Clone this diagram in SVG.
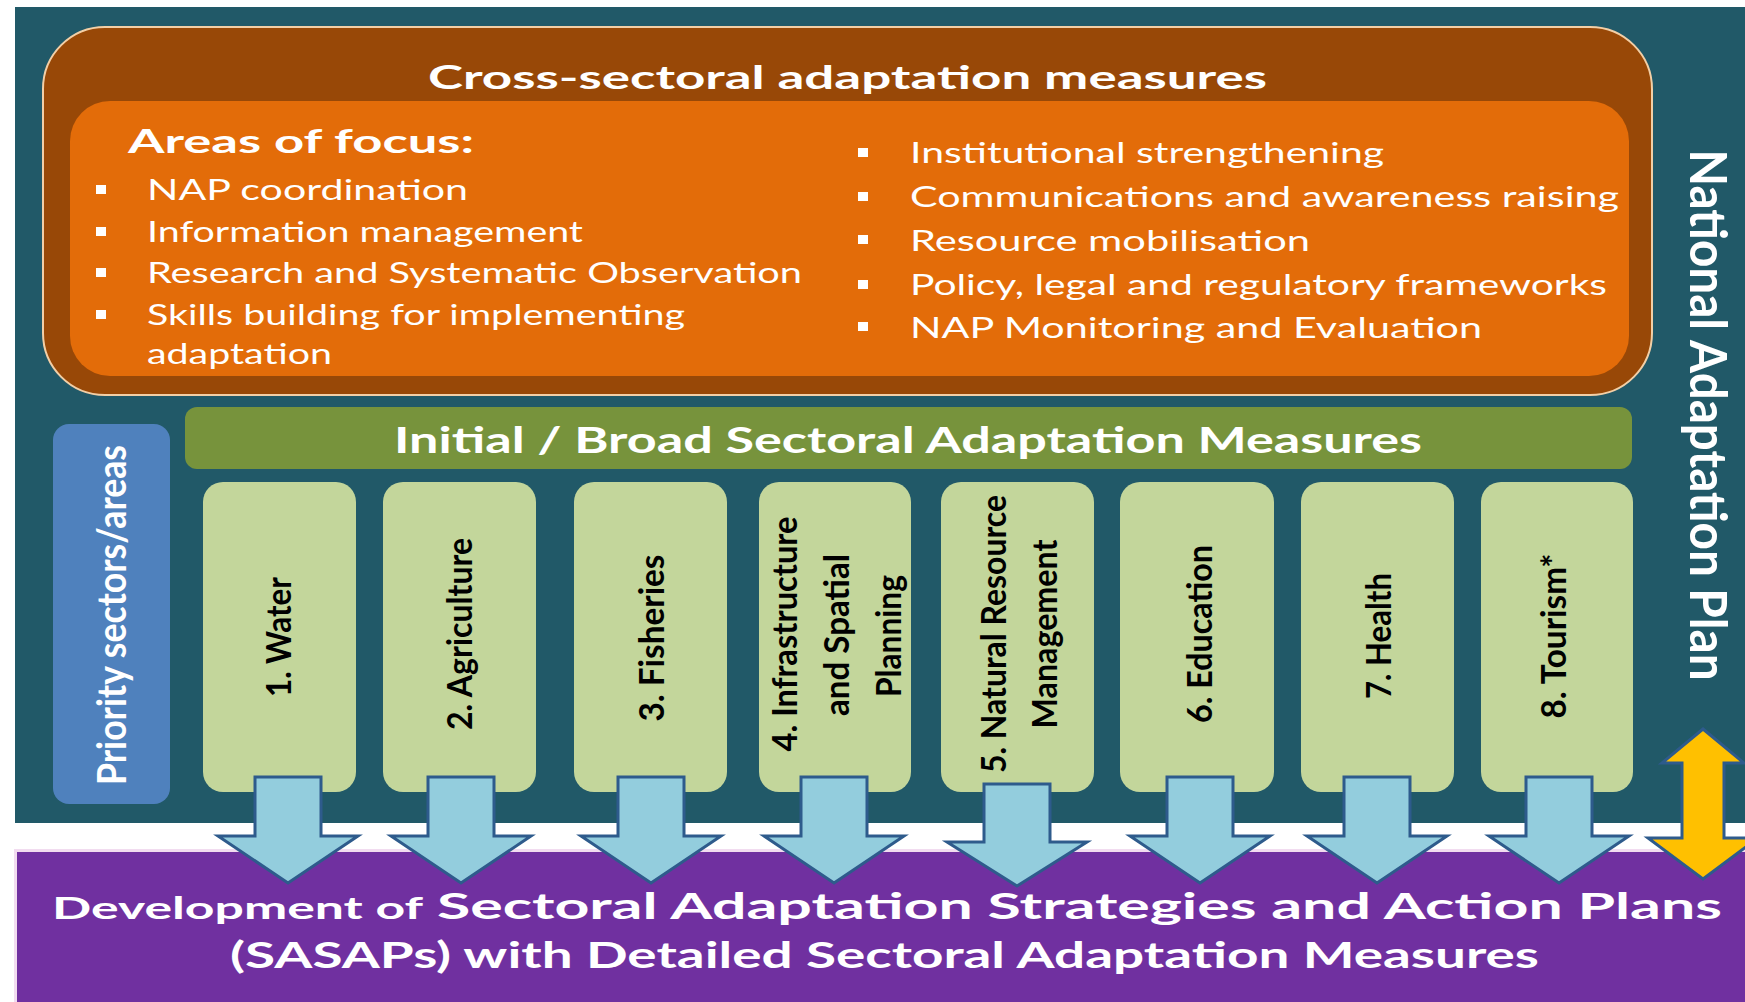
<svg xmlns="http://www.w3.org/2000/svg" width="1745" height="1002" viewBox="0 0 1745 1002">
<style>
.w{fill:#ffffff;font-family:Lato,'Liberation Sans',sans-serif}
.b{font-weight:700}
.item{font-size:29px}
.sec{fill:#000;font-family:Lato,'Liberation Sans',sans-serif;font-weight:700;font-size:35px;text-anchor:middle}
.box{fill:#c3d69b}
.arr{fill:#93cddd;stroke:#2e5b8c;stroke-width:3;stroke-linejoin:miter}
.bul{fill:#ffffff}
</style>
<rect x="0" y="0" width="1745" height="1002" fill="#ffffff"/>
<g id="nap-panel">
<rect x="15" y="7" width="1730" height="816" fill="#215968"/>
<text class="w b" font-size="46" transform="translate(1708,415) scale(1.1,1) rotate(90)" y="16" text-anchor="middle" textLength="531" lengthAdjust="spacingAndGlyphs">National Adaptation Plan</text>
</g>
<g id="cross-sectoral">
<rect x="43" y="27" width="1609" height="368" rx="62" fill="#984807" stroke="#f3cfa6" stroke-width="2"/>
<text class="w b" x="428" y="89" font-size="32" textLength="839" lengthAdjust="spacingAndGlyphs">Cross-sectoral adaptation measures</text>
</g>
<g id="areas-of-focus">
<rect x="70" y="101" width="1559" height="275" rx="40" fill="#e36c09"/>
<text class="w b" x="128" y="153" font-size="33" textLength="346" lengthAdjust="spacingAndGlyphs">Areas of focus:</text>
<rect class="bul" x="96" y="185" width="10" height="9"/>
<rect class="bul" x="96" y="227" width="10" height="9"/>
<rect class="bul" x="96" y="268" width="10" height="9"/>
<rect class="bul" x="96" y="310" width="10" height="9"/>
<text class="w item" x="147" y="200" textLength="321" lengthAdjust="spacingAndGlyphs">NAP coordination</text>
<text class="w item" x="147" y="242" textLength="436" lengthAdjust="spacingAndGlyphs">Information management</text>
<text class="w item" x="147" y="283" textLength="655" lengthAdjust="spacingAndGlyphs">Research and Systematic Observation</text>
<text class="w item" x="147" y="325" textLength="538" lengthAdjust="spacingAndGlyphs">Skills building for implementing</text>
<text class="w item" x="147" y="364" textLength="185" lengthAdjust="spacingAndGlyphs">adaptation</text>
<rect class="bul" x="858" y="148" width="10" height="9"/>
<rect class="bul" x="858" y="192" width="10" height="9"/>
<rect class="bul" x="858" y="235" width="10" height="9"/>
<rect class="bul" x="858" y="280" width="10" height="9"/>
<rect class="bul" x="858" y="322" width="10" height="9"/>
<text class="w item" x="910" y="163" textLength="474" lengthAdjust="spacingAndGlyphs">Institutional strengthening</text>
<text class="w item" x="910" y="207" textLength="709" lengthAdjust="spacingAndGlyphs">Communications and awareness raising</text>
<text class="w item" x="910" y="251" textLength="400" lengthAdjust="spacingAndGlyphs">Resource mobilisation</text>
<text class="w item" x="910" y="295" textLength="697" lengthAdjust="spacingAndGlyphs">Policy, legal and regulatory frameworks</text>
<text class="w item" x="910" y="338" textLength="572" lengthAdjust="spacingAndGlyphs">NAP Monitoring and Evaluation</text>
</g>
<g id="broad-measures">
<rect x="185" y="407" width="1447" height="62" rx="12" fill="#77933c"/>
<text class="w b" x="394" y="453" font-size="36" textLength="1028" lengthAdjust="spacingAndGlyphs">Initial / Broad Sectoral Adaptation Measures</text>
</g>
<g id="priority">
<rect x="53" y="424" width="117" height="380" rx="16" fill="#4f81bd"/>
<text class="w b" font-size="35" transform="translate(111,615) scale(1.15,1) rotate(-90)" y="13" text-anchor="middle" textLength="340" lengthAdjust="spacingAndGlyphs">Priority sectors/areas</text>
</g>
<g id="sector-1"><rect class="box" x="203" y="482" width="153" height="310" rx="20"/>
<text class="sec" transform="translate(278,637) rotate(-90)" y="13" textLength="120" lengthAdjust="spacingAndGlyphs">1. Water</text></g>
<g id="sector-2"><rect class="box" x="383" y="482" width="153" height="310" rx="20"/>
<text class="sec" transform="translate(459,634) rotate(-90)" y="13" textLength="192" lengthAdjust="spacingAndGlyphs">2. Agriculture</text></g>
<g id="sector-3"><rect class="box" x="574" y="482" width="153" height="310" rx="20"/>
<text class="sec" transform="translate(651,638) rotate(-90)" y="13" textLength="167" lengthAdjust="spacingAndGlyphs">3. Fisheries</text></g>
<g id="sector-4"><rect class="box" x="759" y="482" width="152" height="310" rx="20"/>
<text class="sec" transform="translate(784,634) rotate(-90)" y="13" textLength="235" lengthAdjust="spacingAndGlyphs">4. Infrastructure</text>
<text class="sec" transform="translate(836,635) rotate(-90)" y="13" textLength="162" lengthAdjust="spacingAndGlyphs">and Spatial</text>
<text class="sec" transform="translate(888,636) rotate(-90)" y="13" textLength="122" lengthAdjust="spacingAndGlyphs">Planning</text></g>
<g id="sector-5"><rect class="box" x="941" y="482" width="153" height="310" rx="20"/>
<text class="sec" transform="translate(993,634) rotate(-90)" y="13" textLength="278" lengthAdjust="spacingAndGlyphs">5. Natural Resource</text>
<text class="sec" transform="translate(1044,634) rotate(-90)" y="13" textLength="189" lengthAdjust="spacingAndGlyphs">Management</text></g>
<g id="sector-6"><rect class="box" x="1120" y="482" width="154" height="310" rx="20"/>
<text class="sec" transform="translate(1199,634) rotate(-90)" y="13" textLength="178" lengthAdjust="spacingAndGlyphs">6. Education</text></g>
<g id="sector-7"><rect class="box" x="1301" y="482" width="153" height="310" rx="20"/>
<text class="sec" transform="translate(1378,636) rotate(-90)" y="13" textLength="126" lengthAdjust="spacingAndGlyphs">7. Health</text></g>
<g id="sector-8"><rect class="box" x="1481" y="482" width="152" height="310" rx="20"/>
<text class="sec" transform="translate(1553,636) rotate(-90)" y="13" textLength="165" lengthAdjust="spacingAndGlyphs">8. Tourism*</text></g>
<g id="sasaps">
<rect x="15.5" y="850.5" width="1731" height="153" fill="#7030a0" stroke="#f2dcf0" stroke-width="3"/>
<text class="w b" x="52" y="919" font-size="31" textLength="371" lengthAdjust="spacingAndGlyphs">Development of</text>
<text class="w b" x="437" y="919" font-size="37" textLength="1285" lengthAdjust="spacingAndGlyphs">Sectoral Adaptation Strategies and Action Plans</text>
<text class="w b" x="230" y="968" font-size="36" textLength="1309" lengthAdjust="spacingAndGlyphs">(SASAPs) with Detailed Sectoral Adaptation Measures</text>
</g>
<g id="connectors">
<path class="arr" d="M255,777 H321 V836 H358 L288,883 L218,836 H255 Z"/>
<path class="arr" d="M428,777 H494 V836 H531 L461,883 L391,836 H428 Z"/>
<path class="arr" d="M618,777 H684 V836 H721 L651,883 L581,836 H618 Z"/>
<path class="arr" d="M801,777 H867 V836 H904 L834,883 L764,836 H801 Z"/>
<path class="arr" d="M984,784 H1050 V842 H1087 L1017,886 L947,842 H984 Z"/>
<path class="arr" d="M1167,777 H1233 V836 H1270 L1200,883 L1130,836 H1167 Z"/>
<path class="arr" d="M1344,777 H1410 V836 H1447 L1377,883 L1307,836 H1344 Z"/>
<path class="arr" d="M1526,777 H1592 V836 H1629 L1559,883 L1489,836 H1526 Z"/>
<path d="M1703,729 L1744,763 H1724 V838 H1758 L1703,879 L1648,838 H1682 V763 H1662 Z" fill="#ffc000" stroke="#2e5b8c" stroke-width="3" stroke-linejoin="miter"/>
</g>
</svg>
